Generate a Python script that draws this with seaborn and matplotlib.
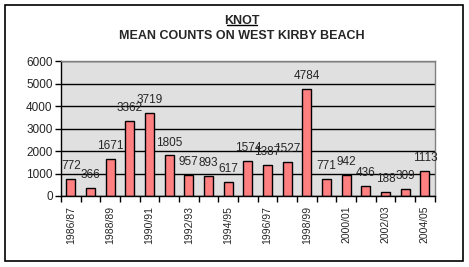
import matplotlib
matplotlib.use("Agg")
import matplotlib.pyplot as plt
import seaborn as sns
import pandas as pd
from matplotlib.patches import Rectangle
from matplotlib.lines import Line2D

seasons = ["1986/87", "1987/88", "1988/89", "1989/90", "1990/91", "1991/92", "1992/93",
           "1993/94", "1994/95", "1995/96", "1996/97", "1997/98", "1998/99", "1999/00",
           "2000/01", "2001/02", "2002/03", "2003/04", "2004/05"]
counts = [772, 366, 1671, 3362, 3719, 1805, 957, 893, 617, 1574, 1387, 1527, 4784,
          771, 942, 436, 188, 309, 1113]
yticks = [0, 1000, 2000, 3000, 4000, 5000, 6000]

sns.set_theme(style="white")
plt.rcParams['font.family'] = ['Liberation Sans', 'DejaVu Sans']

df = pd.DataFrame({"season": seasons, "count": counts})

fig = plt.figure(figsize=(4.69, 2.67), dpi=100)
fig.patch.set_facecolor("white")
ax = fig.add_axes([0.130, 0.266, 0.797, 0.504])
ax.set_facecolor("#E0E0E0")

sns.barplot(data=df, x="season", y="count", color="#FF8080", edgecolor="black",
            linewidth=1.0, width=0.45, saturation=1, ax=ax)

ax.set_ylim(0, 6000)
ax.set_xlim(-0.5, len(seasons) - 0.5)
ax.set_yticks(yticks)
ax.set_yticklabels([str(v) for v in yticks], fontsize=8.5)
ax.yaxis.grid(True, color="black", linewidth=1.0)
ax.set_axisbelow(True)

ax.set_xticks(range(len(seasons)))
ax.set_xticklabels([s if i % 2 == 0 else "" for i, s in enumerate(seasons)],
                   rotation=90, fontsize=7.5)
ax.tick_params(axis="x", which="major", length=0, pad=7)
ax.set_xticks([i + 0.5 for i in range(-1, len(seasons))], minor=True)
ax.tick_params(axis="x", which="minor", length=4, width=1, color="black", direction="out", bottom=True)
ax.tick_params(axis="y", length=4, width=1, color="black", direction="out", left=True, pad=2)

ax.set_xlabel("")
ax.set_ylabel("")

for s in ["top", "right"]:
    ax.spines[s].set_color("#808080")
    ax.spines[s].set_linewidth(1)
for s in ["left", "bottom"]:
    ax.spines[s].set_color("black")
    ax.spines[s].set_linewidth(1)

for i, v in enumerate(counts):
    ax.annotate(str(v), (i, v), xytext=(0, 5), textcoords="offset points",
                ha="center", va="bottom", fontsize=8.5)

tx = 242 / 469
fig.text(tx, 0.923, "KNOT", ha="center", va="center", fontsize=9, fontweight="bold")
fig.lines.append(Line2D([227 / 469, 257 / 469], [0.905, 0.905], transform=fig.transFigure,
                        color="black", linewidth=1))
fig.text(tx, 0.866, "MEAN COUNTS ON WEST KIRBY BEACH", ha="center", va="center",
         fontsize=9, fontweight="bold")

fig.patches.append(Rectangle((5 / 469, 6 / 267), 458 / 469, 256 / 267, transform=fig.transFigure,
                             fill=False, edgecolor="black", linewidth=1.2))

fig.savefig("out.png", dpi=100)
